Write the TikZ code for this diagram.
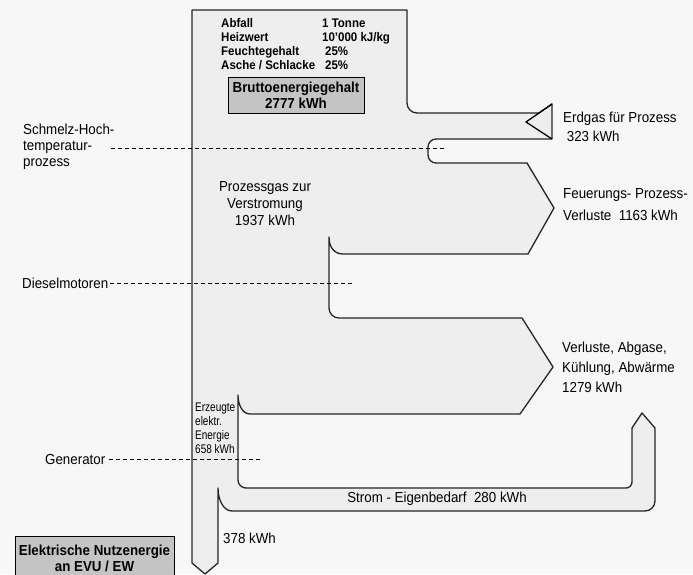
\documentclass[tikz,border=0pt]{standalone}
\usepackage{fontspec}
\setmainfont{Liberation Sans}[FakeStretch=0.92]
\newfontfamily\narrowfont{Liberation Sans}[FakeStretch=0.8]
\definecolor{paper}{gray}{0.97}
\definecolor{flowgray}{gray}{0.935}
\definecolor{boxgray}{gray}{0.77}

\begin{document}
\begin{tikzpicture}[x=1pt,y=-1pt,
  flow/.style={draw=black!85,line width=1.3pt,fill=flowgray,line join=round},
  guide/.style={dash pattern=on 4pt off 3pt,line width=0.9pt},
  lbl/.style={inner sep=0pt,align=left,font=\fontsize{14.5}{#1}\selectfont},
  lbl/.default=19,
  tbl/.style={inner sep=0pt,anchor=base west,font=\bfseries\fontsize{12.5}{14}\selectfont},
  greybox/.style={draw,line width=0.8pt,fill=boxgray,align=center,inner sep=0pt,font=\bfseries\fontsize{14.5}{16}\selectfont}]
%%Location
\fill[paper] (0,0) rectangle (693,574);
\useasboundingbox (0,0) rectangle (693,574);
%%Flow
\draw[flow] (192,10) -- (407,10) -- (407,103) .. controls (407,108.5) and (411.5,113) .. (417,113)
  -- (539,113) -- (552,104) -- (552,139)
  -- (436,139) .. controls (431.6,139) and (428,142.6) .. (428,147)
  -- (428,155) .. controls (428,159.4) and (431.6,163) .. (436,163)
  -- (527,163) -- (554,208) -- (528,254)
  -- (343,254) .. controls (334,254) and (329,247) .. (329,237)
  -- (329,308) .. controls (329,313.5) and (333.5,318) .. (339,318)
  -- (522,318) -- (553,367) -- (520,414)
  -- (250,414) .. controls (242,414) and (238,404) .. (238,395)
  -- (238,480) .. controls (238,484.4) and (241.6,488) .. (246,488)
  -- (626,488) .. controls (629.3,488) and (632,485.3) .. (632,482)
  -- (632,428) -- (642,413) -- (655,428)
  -- (655,501) .. controls (655,506.5) and (650.5,511) .. (645,511)
  -- (232,511) .. controls (223,511) and (218,499) .. (218,488)
  -- (218,563) -- (205,574) -- (192,563) -- cycle;
\draw[line width=1.3pt,line join=round] (552,104) -- (526,122) -- (552,139);
%%Data
\node[tbl] (abfall) at (221,27) {Abfall};
\node[tbl] (tonne) at (322,27) {1 Tonne};
\node[tbl] (heiz) at (221,41) {Heizwert};
\node[tbl] (heizval) at (322,41) {10'000 kJ/kg};
\node[tbl] (feucht) at (221,55) {Feuchtegehalt};
\node[tbl] (feuchtval) at (325,55) {25\%};
\node[tbl] (asche) at (221,69) {Asche / Schlacke};
\node[tbl] (ascheval) at (325,69) {25\%};
\node[greybox,minimum width=136pt,minimum height=36pt] (brutto) at (296,95) {Bruttoenergiegehalt\\2777 kWh};
\node[greybox,minimum width=159pt,minimum height=44pt] (nutz) at (94.5,558) {Elektrische Nutzenergie\\an EVU / EW};
%%Label
\node[lbl,anchor=north west] (erdgas) at (563,112) {Erdgas f\"ur Prozess\\\ 323 kWh};
\node[lbl=22,anchor=north west] (feuerung) at (563,188) {Feuerungs- Prozess-\\Verluste\ \ 1163 kWh};
\node[lbl=17,anchor=north,align=center] (prozessgas) at (265,181) {Prozessgas zur\\Verstromung\\1937 kWh};
\node[lbl=20,anchor=north west] (verluste) at (562,342) {Verluste, Abgase,\\K\"uhlung, Abw\"arme\\1279 kWh};
\node[inner sep=0pt,anchor=north west,align=left,font=\narrowfont\fontsize{12.5}{14}\selectfont] (erzeugt) at (195,403) {Erzeugte\\elektr.\\Energie\\658 kWh};
\node[lbl] (strom) at (437,499) {Strom - Eigenbedarf\ \ 280 kWh};
\node[lbl,anchor=west] (rest) at (223,538) {378 kWh};
\node[lbl=16,anchor=north west] (schmelz) at (23,124) {Schmelz-Hoch-\\temperatur-\\prozess};
\node[lbl,anchor=west] (diesel) at (22,283) {Dieselmotoren};
\node[lbl,anchor=west] (generator) at (45,459) {Generator};
%%Guides
\coordinate (schmelzend) at (445,148);
\coordinate (dieselend) at (355,283);
\coordinate (generatorend) at (263,459);
\draw[guide] ([xshift=-4pt]schmelz.east |- schmelzend) -- (schmelzend);
\draw[guide] ([xshift=2pt]diesel.east) -- (dieselend);
\draw[guide] ([xshift=4pt]generator.east) -- (generatorend);
\end{tikzpicture}
\end{document}
